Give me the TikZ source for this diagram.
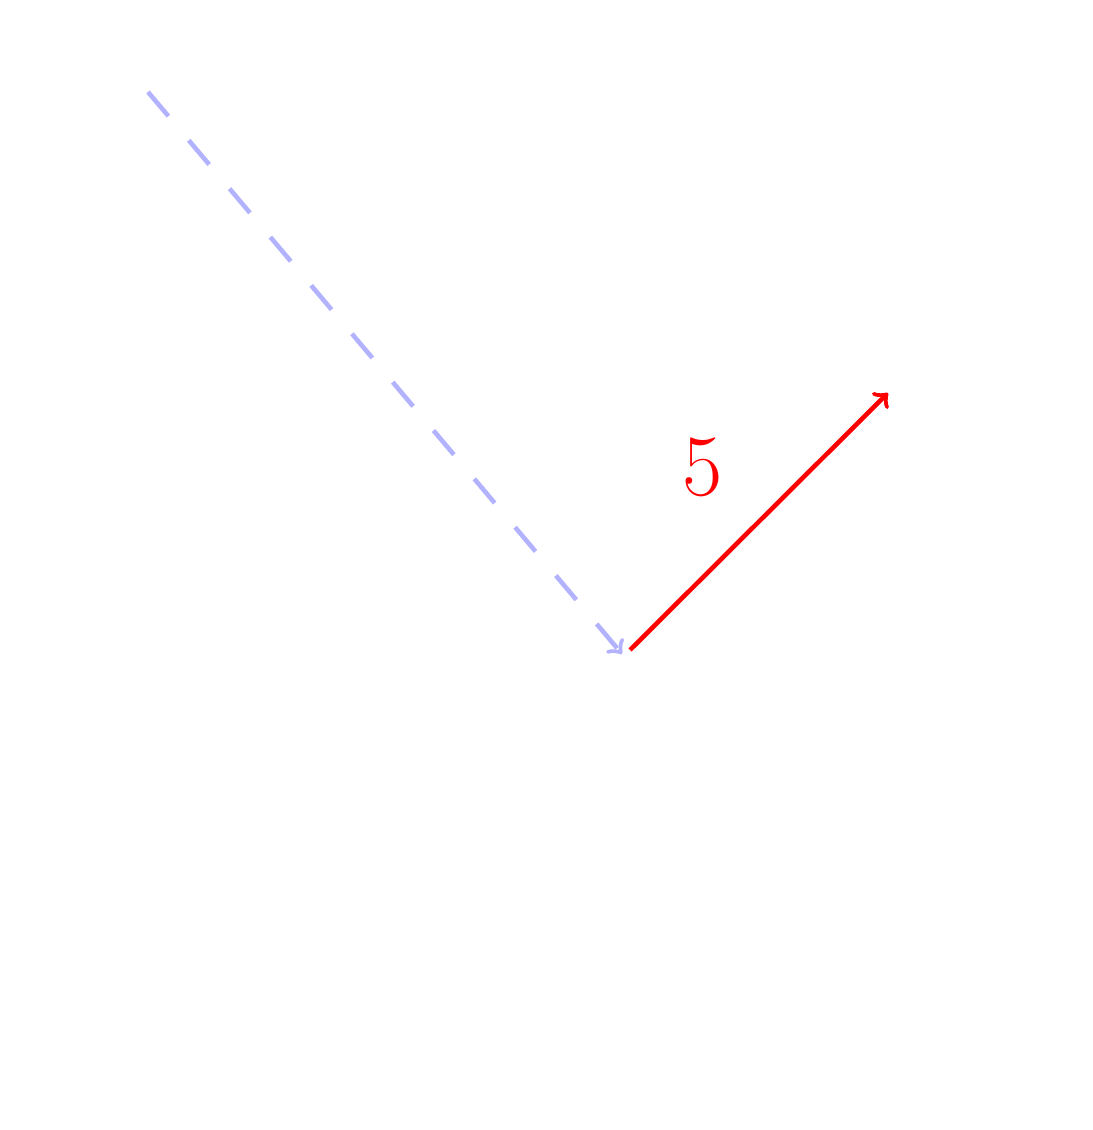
\documentclass[tikz,border=0pt]{standalone}
\usetikzlibrary{arrows}
\begin{document}
\begin{tikzpicture}[vec/.style={->, line width=1.3pt}]
  \useasboundingbox (0,0) rectangle (10.92,11.30);
  \coordinate (start) at (1.48,10.38);
  \coordinate (origin) at (6.22,4.76);
  \coordinate (base) at (6.30,4.80);
  \coordinate (tip) at (8.88,7.37);
  \draw[vec, blue!30, dashed, dash pattern=on 9pt off 9pt] (start) -- (origin);
  \draw[vec, red] (base) -- (tip);
  \node[red, font=\Huge] (len) at (7.03,6.63) {$5$};
\end{tikzpicture}
\end{document}
